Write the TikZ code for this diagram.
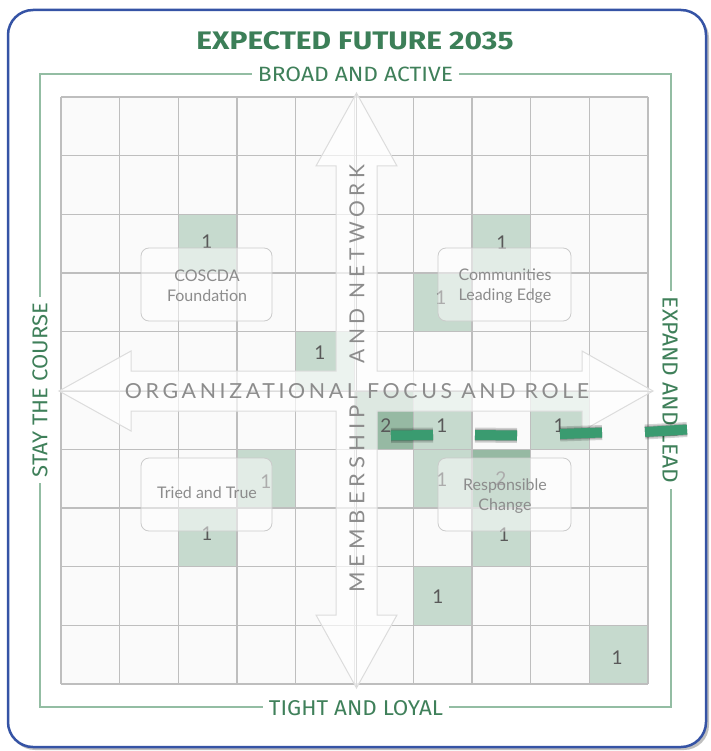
\documentclass[tikz,border=0pt]{standalone}
\usepackage{fontspec}
\usepackage{graphicx}
\setmainfont{Lato}
\newfontfamily\labfont{Fira Sans}
\newfontfamily\axisfont{Lato}[LetterSpace=17]
\newfontfamily\axisfontv{Lato}[LetterSpace=22]
\definecolor{titlegreen}{HTML}{3C7F58}
\definecolor{labelgreen}{HTML}{3F805A}
\definecolor{framegreen}{HTML}{93BDA3}
\definecolor{bordblue}{HTML}{3553A5}
\definecolor{cellbg}{HTML}{FAFAFA}
\definecolor{gridcol}{HTML}{BEBEBE}
\definecolor{valA}{HTML}{C6DACE}
\definecolor{valB}{HTML}{96B9A3}
\definecolor{dashgreen}{HTML}{3A9B70}
\definecolor{arrowline}{HTML}{DCDCDC}
\definecolor{textgray}{HTML}{8C8C8C}
\definecolor{numgray}{HTML}{595959}
\tikzset{
  gridln/.style={draw=gridcol, line width=1.3pt},
  val1/.style={fill=valA},
  val2/.style={fill=valB},
  num/.style={text=numgray, font=\fontsize{19}{19}\selectfont, inner sep=0pt},
  edgelabel/.style={fill=white, text=labelgreen, inner xsep=6pt, inner ysep=2pt},
  quadbox/.style={draw=gridcol!80, line width=0.8pt, rounded corners=8pt, fill=white, fill opacity=0.5},
  quadtext/.style={text=textgray, font=\fontsize{16}{20}\selectfont, align=center, inner sep=0pt},
  axistext/.style={text=textgray, inner sep=0pt},
  dashbar/.style={draw=dashgreen, line width=10pt},
  dashshadow/.style={draw=black, line width=#1, opacity=0.17},
}
\begin{document}
\begin{tikzpicture}[x=1pt,y=-1pt]
\useasboundingbox (0,0) rectangle (710,751);
\fill[white] (0,0) rectangle (710,751);
% outer border with shadow
\fill[black, opacity=0.25, rounded corners=25pt] (10,13) rectangle (709,750);
\draw[bordblue, line width=2.5pt, fill=white, rounded corners=25pt] (8,10) rectangle (706,747);
% title
\node (title) at (355,41) {\resizebox{317pt}{18pt}{\color{titlegreen}\labfont\bfseries EXPECTED FUTURE 2035}};
% frame
\draw[framegreen, line width=1.2pt] (40,74) rectangle (671,707);
\node[edgelabel] (top) at (355.5,74) {\resizebox{195pt}{14.5pt}{\labfont BROAD AND ACTIVE}};
\node[edgelabel] (bottom) at (356,708) {\resizebox{174pt}{15pt}{\labfont TIGHT AND LOYAL}};
\node[edgelabel, rotate=90] (left) at (40,390) {\resizebox{174pt}{15pt}{\labfont STAY THE COURSE}};
\node[edgelabel, rotate=-90] (right) at (670,390) {\resizebox{186pt}{15pt}{\labfont EXPAND AND LEAD}};
% cells
\fill[cellbg] (61,97) rectangle (648,684);
\foreach \c/\r/\v in {2/2/1, 7/2/1, 6/3/1, 4/4/1, 5/5/2, 6/5/1, 8/5/1, 3/6/1, 6/6/1, 7/6/2, 2/7/1, 7/7/1, 6/8/1, 9/9/1}
  {\fill[val\v] ({61+58.7*\c},{97+58.7*\r}) rectangle ++(58.7,58.7);}
\foreach \k in {0,...,10}
  {\draw[gridln] ({61+58.7*\k},97) -- ({61+58.7*\k},684);
   \draw[gridln] (61,{97+58.7*\k}) -- (648,{97+58.7*\k});}
% numbers
\node[num] (n1) at (207,242) {1};
\node[num] (n2) at (502,243) {1};
\node[num] (n3) at (441,298) {1};
\node[num] (n4) at (320,353) {1};
\node[num] (n5) at (386,426) {2};
\node[num] (n6) at (442,426) {1};
\node[num] (n7) at (559,426) {1};
\node[num] (n8) at (266,482) {1};
\node[num] (n9) at (442,480) {1};
\node[num] (n10) at (501,479) {2};
\node[num] (n11) at (207,534) {1};
\node[num] (n12) at (504,535) {1};
\node[num] (n13) at (438,597) {1};
\node[num] (n14) at (617,658) {1};
% cross arrows
\path[fill=white, fill opacity=0.68, draw=arrowline, line width=1pt]
  (356.5,93) -- (397,166) -- (377,166) -- (377,371) -- (582,371) -- (582,351) -- (653,391)
  -- (582,431) -- (582,411) -- (377,411) -- (377,615) -- (397,615) -- (356.5,688)
  -- (316,615) -- (336,615) -- (336,411) -- (131,411) -- (131,431) -- (59,391)
  -- (131,351) -- (131,371) -- (336,371) -- (336,166) -- (316,166) -- cycle;
\draw[arrowline, line width=0.8pt] (356.5,93) -- (356.5,688);
\draw[arrowline, line width=0.8pt] (59,391) -- (653,391);
% axis texts
\node[axistext] (haxis) at (357,391.5) {\resizebox{464pt}{15pt}{\axisfont ORGANIZATIONAL FOCUS AND ROLE}};
\node[axistext, rotate=90] (vaxis1) at (357,499) {\resizebox{187pt}{15pt}{\axisfontv MEMBERSHIP}};
\node[axistext, rotate=90] (vaxis2) at (357,264) {\resizebox{199pt}{15pt}{\axisfontv AND NETWORK}};
% quadrant boxes
\path[quadbox] (141,248) rectangle (272,321);
\path[quadbox] (438,248) rectangle (571,321);
\path[quadbox] (141,458) rectangle (272,531);
\path[quadbox] (438,458) rectangle (571,531);
\node[quadtext] (q1) at (207,286) {COSCDA\\Foundation};
\node[quadtext] (q2) at (505,286) {Communities\\Leading Edge};
\node[quadtext] (q3) at (207,493) {Tried and True};
\node[quadtext] (q4) at (505,496) {Responsible\\Change};
% trend dashes
\coordinate (d1a) at (391,435.5); \coordinate (d1b) at (433,435);
\coordinate (d2a) at (475,435);   \coordinate (d2b) at (517,435.5);
\coordinate (d3a) at (560,434);   \coordinate (d3b) at (602,432.5);
\coordinate (d4a) at (645,432);   \coordinate (d4b) at (687,429.5);
\foreach \a/\b in {d1a/d1b, d2a/d2b, d3a/d3b, d4a/d4b}{
  \draw[dashshadow=15pt, shift={(4,5)}] (\a) -- (\b);
  \draw[dashshadow=12pt, shift={(3,4)}] (\a) -- (\b);
  \draw[dashshadow=10pt, shift={(2,3)}] (\a) -- (\b);
  \draw[dashbar] (\a) -- (\b);
}
\end{tikzpicture}
\end{document}
